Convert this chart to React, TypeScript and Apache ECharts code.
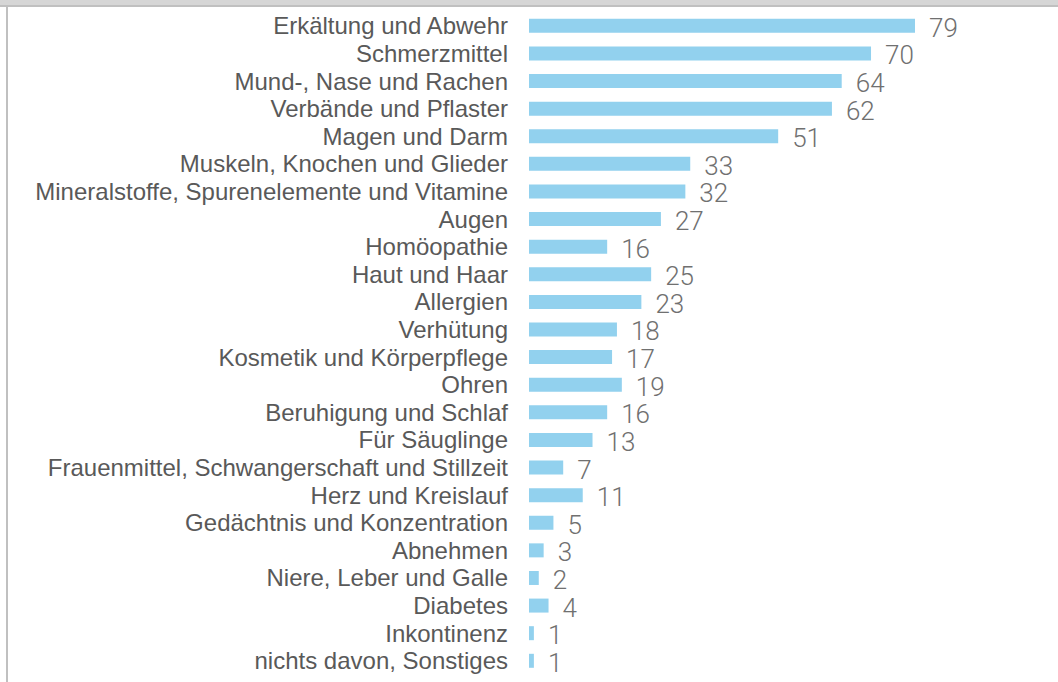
import React, { useEffect, useRef } from "react";
import * as echarts from "echarts";

const categories: string[] = [
  "Erkältung und Abwehr",
  "Schmerzmittel",
  "Mund-, Nase und Rachen",
  "Verbände und Pflaster",
  "Magen und Darm",
  "Muskeln, Knochen und Glieder",
  "Mineralstoffe, Spurenelemente und Vitamine",
  "Augen",
  "Homöopathie",
  "Haut und Haar",
  "Allergien",
  "Verhütung",
  "Kosmetik und Körperpflege",
  "Ohren",
  "Beruhigung und Schlaf",
  "Für Säuglinge",
  "Frauenmittel, Schwangerschaft und Stillzeit",
  "Herz und Kreislauf",
  "Gedächtnis und Konzentration",
  "Abnehmen",
  "Niere, Leber und Galle",
  "Diabetes",
  "Inkontinenz",
  "nichts davon, Sonstiges",
];

const values: number[] = [
  79, 70, 64, 62, 51, 33, 32, 27, 16, 25, 23, 18, 17, 19, 16, 13, 7, 11, 5, 3, 2, 4, 1, 1,
];

export default function App() {
  const ref = useRef<HTMLDivElement>(null);
  useEffect(() => {
    if (!ref.current) return;
    const chart = echarts.init(ref.current, undefined, { renderer: "svg" });
    chart.setOption({
      animation: false,
      backgroundColor: "#ffffff",
      grid: { left: 529, top: 12, width: 488.6, height: 662.6, containLabel: false },
      xAxis: {
        type: "value",
        min: 0,
        max: 100,
        show: false,
      },
      yAxis: {
        type: "category",
        data: categories,
        inverse: true,
        axisLine: { show: false },
        axisTick: { show: false },
        splitLine: { show: false },
        axisLabel: {
          interval: 0,
          color: "#595959",
          fontFamily: "'Liberation Sans', Arial, sans-serif",
          fontSize: 24,
          margin: 21,
        },
      },
      series: [
        {
          type: "bar",
          data: values,
          barWidth: 14,
          itemStyle: { color: "#92D1EE" },
          label: {
            show: true,
            position: "right",
            distance: 14,
            offset: [0, 2],
            color: "#707070",
            fontFamily: "Roboto, Lato, 'Open Sans', sans-serif",
            fontWeight: 300,
            fontSize: 26,
          },
        },
      ],
      graphic: [
        {
          type: "rect",
          left: 0,
          top: 0,
          shape: { x: 0, y: 0, width: 1058, height: 6 },
          style: { fill: "#d6d6d6" },
          silent: true,
        },
        {
          type: "rect",
          left: 0,
          top: 5,
          shape: { x: 0, y: 0, width: 1058, height: 2 },
          style: { fill: "#c0c0c0" },
          silent: true,
        },
        {
          type: "rect",
          left: 6,
          top: 7,
          shape: { x: 0, y: 0, width: 2, height: 675 },
          style: { fill: "#c0c0c0" },
          silent: true,
        },
      ],
    });
    return () => chart.dispose();
  }, []);
  return (
    <div
      ref={ref}
      style={{ position: "absolute", left: 0, top: 0, width: 1058, height: 682 }}
    />
  );
}
